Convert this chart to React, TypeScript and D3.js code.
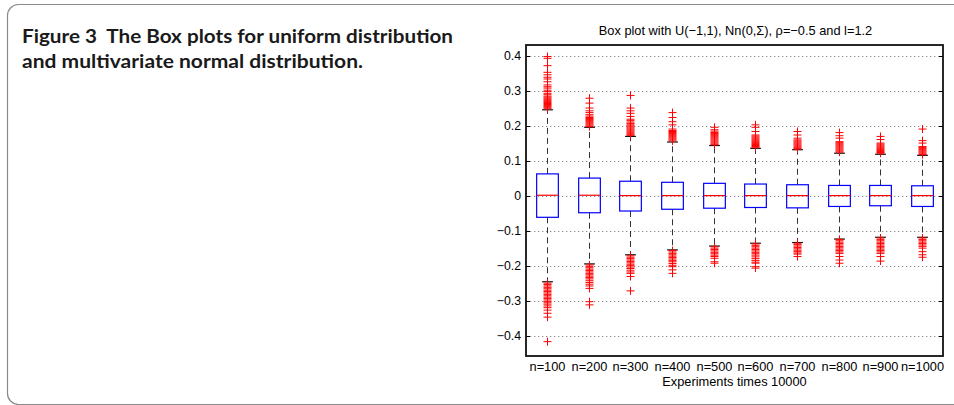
import * as d3 from 'd3';

// categories
const labels = ['n=100', 'n=200', 'n=300', 'n=400', 'n=500', 'n=600', 'n=700', 'n=800', 'n=900', 'n=1000'];

// box statistics
const q3 = [0.062, 0.05, 0.041, 0.038, 0.035, 0.033, 0.031, 0.029, 0.029, 0.028];
const medians = [0.001, 0.001, 0, 0, 0, 0, 0, 0, 0, 0];
const q1 = [-0.062, -0.049, -0.044, -0.039, -0.036, -0.034, -0.035, -0.031, -0.029, -0.031];
const whiskerHigh = [0.245, 0.195, 0.169, 0.153, 0.143, 0.135, 0.131, 0.121, 0.118, 0.115];
const whiskerLow = [-0.246, -0.195, -0.169, -0.155, -0.144, -0.136, -0.134, -0.124, -0.119, -0.119];

// outliers (red +)
const upperOutliers: number[][] = [
  [0.397, 0.392, 0.371, 0.352, 0.345, 0.338, 0.333, 0.325, 0.316, 0.311, 0.307, 0.301, 0.297, 0.292, 0.288, 0.284, 0.281, 0.278, 0.275, 0.272, 0.269, 0.266, 0.263, 0.26, 0.257, 0.254, 0.251, 0.248],
  [0.278, 0.264, 0.25, 0.242, 0.237, 0.231, 0.227, 0.223, 0.22, 0.217, 0.214, 0.211, 0.208, 0.205, 0.202, 0.199, 0.197],
  [0.286, 0.25, 0.242, 0.235, 0.226, 0.218, 0.214, 0.21, 0.206, 0.202, 0.199, 0.196, 0.193, 0.19, 0.187, 0.184, 0.181, 0.178, 0.175, 0.172],
  [0.237, 0.223, 0.211, 0.202, 0.19, 0.186, 0.183, 0.18, 0.177, 0.174, 0.171, 0.168, 0.165, 0.162, 0.159, 0.156],
  [0.195, 0.188, 0.184, 0.18, 0.177, 0.174, 0.171, 0.168, 0.165, 0.162, 0.159, 0.156, 0.153, 0.15, 0.147, 0.145],
  [0.202, 0.195, 0.183, 0.173, 0.17, 0.167, 0.164, 0.161, 0.158, 0.155, 0.152, 0.149, 0.146, 0.143, 0.14, 0.138],
  [0.183, 0.173, 0.164, 0.159, 0.156, 0.153, 0.15, 0.147, 0.144, 0.141, 0.138, 0.135, 0.133],
  [0.18, 0.171, 0.164, 0.154, 0.151, 0.148, 0.145, 0.142, 0.139, 0.136, 0.133, 0.13, 0.127, 0.124],
  [0.169, 0.16, 0.15, 0.147, 0.144, 0.141, 0.138, 0.135, 0.132, 0.129, 0.126, 0.123, 0.121],
  [0.19, 0.157, 0.15, 0.14, 0.137, 0.134, 0.131, 0.128, 0.125, 0.122, 0.119, 0.117],
];
const lowerOutliers: number[][] = [
  [-0.25, -0.254, -0.258, -0.262, -0.266, -0.27, -0.274, -0.278, -0.282, -0.286, -0.29, -0.294, -0.298, -0.302, -0.306, -0.31, -0.315, -0.32, -0.327, -0.336, -0.347, -0.417],
  [-0.198, -0.202, -0.206, -0.21, -0.214, -0.218, -0.222, -0.226, -0.23, -0.234, -0.238, -0.243, -0.248, -0.253, -0.258, -0.265, -0.303, -0.312],
  [-0.172, -0.176, -0.18, -0.184, -0.188, -0.192, -0.196, -0.2, -0.204, -0.208, -0.213, -0.218, -0.222, -0.231, -0.272],
  [-0.157, -0.161, -0.165, -0.169, -0.173, -0.177, -0.181, -0.185, -0.189, -0.194, -0.199, -0.203, -0.212, -0.222],
  [-0.146, -0.15, -0.154, -0.158, -0.162, -0.166, -0.17, -0.174, -0.179, -0.189, -0.193],
  [-0.138, -0.142, -0.146, -0.15, -0.154, -0.158, -0.162, -0.166, -0.17, -0.175, -0.18, -0.185, -0.19, -0.193, -0.203, -0.207],
  [-0.136, -0.14, -0.144, -0.148, -0.152, -0.156, -0.16, -0.164, -0.167, -0.174],
  [-0.125, -0.129, -0.133, -0.137, -0.141, -0.145, -0.149, -0.153, -0.157, -0.161, -0.165, -0.174, -0.184, -0.193],
  [-0.121, -0.125, -0.129, -0.133, -0.137, -0.141, -0.145, -0.149, -0.153, -0.157, -0.161, -0.165, -0.174, -0.187],
  [-0.121, -0.125, -0.129, -0.133, -0.137, -0.141, -0.145, -0.15, -0.16, -0.169, -0.176],
];

const yTicks = [0.4, 0.3, 0.2, 0.1, 0, -0.1, -0.2, -0.3, -0.4];

const W = 954;
const H = 405;
const plot = { left: 526, right: 943, top: 45, bottom: 356 };
const axisFont = '"Liberation Sans", Arial, Helvetica, sans-serif';

export default function App() {
  const x = d3.scaleBand<string>().domain(labels).range([plot.left, plot.right]).padding(0);
  const y = d3.scaleLinear().domain([-0.458, 0.43]).range([plot.bottom, plot.top]);
  const bw = x.bandwidth();
  const boxW = bw * 0.52;
  const capW = boxW / 2;
  const cx = (l: string) => Math.round((x(l) as number) + bw / 2) + 0.5;
  const fmt = (v: number) => (v === 0 ? '0' : (v < 0 ? '\u2212' : '') + d3.format('.1f')(Math.abs(v)));
  const plus = (px: number, py: number) => `M${px - 4},${py}H${px + 4}M${px},${py - 4}V${py + 4}`;

  return (
    <svg width={W} height={H} style={{ position: 'absolute', left: 0, top: 0, background: '#fff' }}>
      {/* panel frame */}
      <rect x={7.5} y={4.5} width={1100} height={400} rx={11} fill="none" stroke="#8a8a8a" strokeWidth={1.2} />

      {/* caption */}
      <g fontFamily='Lato, "Open Sans", sans-serif' fontWeight="bold" fontSize={19} fill="#1a1a1a">
        <text x={22} y={43} textLength={431} lengthAdjust="spacingAndGlyphs" style={{ whiteSpace: 'pre' }}>
          {'Figure 3  The Box plots for uniform distribution'}
        </text>
        <text x={22} y={68} textLength={341} lengthAdjust="spacingAndGlyphs">
          and multivariate normal distribution.
        </text>
      </g>

      {/* chart title */}
      <text x={(plot.left + plot.right) / 2 + 1} y={35} textAnchor="middle" fontFamily={axisFont} fontSize={12.8} fill="#000">
        Box plot with U(&#8722;1,1), Nn(0,&#931;), &#961;=&#8722;0.5 and l=1.2
      </text>

      {/* grid */}
      <g stroke="#8c8c8c" strokeWidth={1} strokeDasharray="1.3,2.7">
        {yTicks.map((t) => (
          <line key={t} x1={plot.left} x2={plot.right} y1={Math.round(y(t)) + 0.5} y2={Math.round(y(t)) + 0.5} />
        ))}
      </g>

      {/* boxes */}
      {labels.map((l, i) => {
        const c = cx(l);
        return (
          <g key={l}>
            <line x1={c} x2={c} y1={y(q3[i])} y2={y(whiskerHigh[i])} stroke="#333" strokeDasharray="6,4" />
            <line x1={c} x2={c} y1={y(q1[i])} y2={y(whiskerLow[i])} stroke="#333" strokeDasharray="6,4" />
            <line x1={c - capW / 2} x2={c + capW / 2} y1={y(whiskerHigh[i])} y2={y(whiskerHigh[i])} stroke="#111" strokeWidth={1.2} />
            <line x1={c - capW / 2} x2={c + capW / 2} y1={y(whiskerLow[i])} y2={y(whiskerLow[i])} stroke="#111" strokeWidth={1.2} />
            <rect x={c - boxW / 2} y={y(q3[i])} width={boxW} height={y(q1[i]) - y(q3[i])} fill="none" stroke="#0000ff" strokeWidth={1.2} />
            <line x1={c - boxW / 2} x2={c + boxW / 2} y1={y(medians[i])} y2={y(medians[i])} stroke="#ff0000" strokeWidth={1.2} />
            <path
              d={[...upperOutliers[i], ...lowerOutliers[i]].map((v) => plus(c, y(v))).join('')}
              stroke="#ff0000"
              strokeWidth={1}
              fill="none"
            />
          </g>
        );
      })}

      {/* axes box and ticks */}
      <g stroke="#000" strokeWidth={1}>
        {yTicks.map((t) => (
          <g key={t}>
            <line x1={plot.left} x2={plot.left + 4} y1={Math.round(y(t)) + 0.5} y2={Math.round(y(t)) + 0.5} />
            <line x1={plot.right - 4} x2={plot.right} y1={Math.round(y(t)) + 0.5} y2={Math.round(y(t)) + 0.5} />
          </g>
        ))}
      </g>
      <rect x={plot.left} y={plot.top} width={plot.right - plot.left} height={plot.bottom - plot.top} fill="none" stroke="#111" strokeWidth={1.8} />

      {/* y tick labels */}
      <g fontFamily={axisFont} fontSize={12.3} fill="#000" textAnchor="end">
        {yTicks.map((t) => (
          <text key={t} x={521} y={y(t) + 4.4}>
            {fmt(t)}
          </text>
        ))}
      </g>

      {/* x labels */}
      <g fontFamily={axisFont} fontSize={12.8} fill="#000" textAnchor="middle">
        {labels.map((l) => (
          <text key={l} x={cx(l)} y={370.5}>
            {l}
          </text>
        ))}
        <text x={(plot.left + plot.right) / 2} y={385.5}>
          Experiments times 10000
        </text>
      </g>
    </svg>
  );
}
